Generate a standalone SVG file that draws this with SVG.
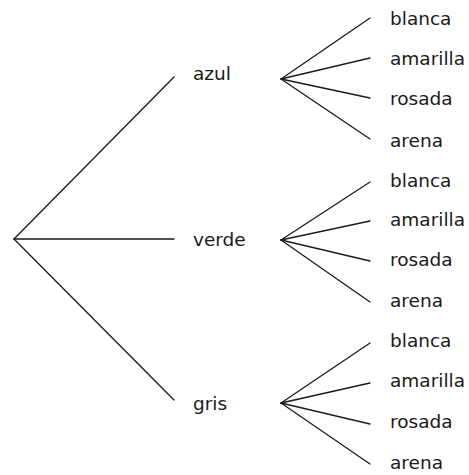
<svg xmlns="http://www.w3.org/2000/svg" width="469" height="475" viewBox="0 0 469 475">
<style>
  .edge { stroke: #1a1a1a; stroke-width: 1.3; fill: none; stroke-linecap: round; }
  .lbl { font-family: "DejaVu Sans", "Liberation Sans", sans-serif; font-size: 18.5px; fill: #1a1a1a; }
</style>
<rect width="469" height="475" fill="#ffffff"/>
<g id="connectors">
  <line class="edge" x1="14" y1="239" x2="174" y2="77"/>
  <line class="edge" x1="14" y1="239" x2="174" y2="239"/>
  <line class="edge" x1="14" y1="239" x2="174" y2="400"/>
  <line class="edge" x1="281" y1="79" x2="370" y2="18"/>
  <line class="edge" x1="281" y1="79" x2="370" y2="58"/>
  <line class="edge" x1="281" y1="79" x2="370" y2="98"/>
  <line class="edge" x1="281" y1="79" x2="370" y2="139"/>
  <line class="edge" x1="281" y1="240" x2="370" y2="182"/>
  <line class="edge" x1="281" y1="240" x2="370" y2="221"/>
  <line class="edge" x1="281" y1="240" x2="370" y2="261"/>
  <line class="edge" x1="281" y1="240" x2="370" y2="302"/>
  <line class="edge" x1="281" y1="403" x2="370" y2="343"/>
  <line class="edge" x1="281" y1="403" x2="370" y2="383"/>
  <line class="edge" x1="281" y1="403" x2="370" y2="424"/>
  <line class="edge" x1="281" y1="403" x2="370" y2="464"/>
</g>
<g id="node-azul"><text class="lbl" x="193" y="80">azul</text></g>
<g id="node-verde"><text class="lbl" x="193" y="246">verde</text></g>
<g id="node-gris"><text class="lbl" x="193" y="410">gris</text></g>
<g id="node-azul-blanca"><text class="lbl" x="390" y="25">blanca</text></g>
<g id="node-azul-amarilla"><text class="lbl" x="390" y="65">amarilla</text></g>
<g id="node-azul-rosada"><text class="lbl" x="390" y="105">rosada</text></g>
<g id="node-azul-arena"><text class="lbl" x="390" y="147">arena</text></g>
<g id="node-verde-blanca"><text class="lbl" x="390" y="187">blanca</text></g>
<g id="node-verde-amarilla"><text class="lbl" x="390" y="226">amarilla</text></g>
<g id="node-verde-rosada"><text class="lbl" x="390" y="266">rosada</text></g>
<g id="node-verde-arena"><text class="lbl" x="390" y="307">arena</text></g>
<g id="node-gris-blanca"><text class="lbl" x="390" y="347">blanca</text></g>
<g id="node-gris-amarilla"><text class="lbl" x="390" y="387">amarilla</text></g>
<g id="node-gris-rosada"><text class="lbl" x="390" y="428">rosada</text></g>
<g id="node-gris-arena"><text class="lbl" x="390" y="469">arena</text></g>
</svg>
